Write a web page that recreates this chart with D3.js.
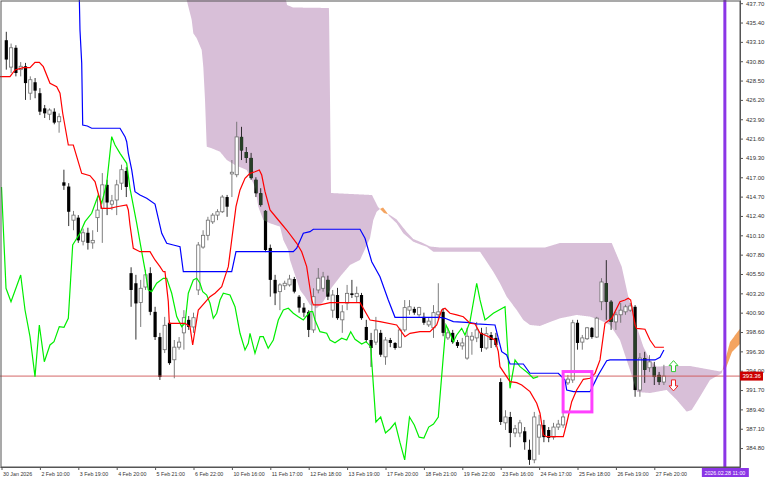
<!DOCTYPE html>
<html><head><meta charset="utf-8">
<script src="https://cdn.jsdelivr.net/npm/d3@7"></script>
<style>body{margin:0;background:#fff;}svg{display:block;}</style>
</head><body>
<svg id="chart" width="768" height="480"></svg>
<script>
// ---------- DATA ----------
const timeLabels = ["30 Jan 2026","2 Feb 10:00","3 Feb 19:00","4 Feb 20:00","5 Feb 21:00","6 Feb 22:00","10 Feb 16:00","11 Feb 17:00","12 Feb 18:00","13 Feb 19:00","17 Feb 20:00","18 Feb 21:00","19 Feb 22:00","23 Feb 16:00","24 Feb 17:00","25 Feb 18:00","26 Feb 19:00","27 Feb 20:00"];
const timeLabelBars = [0,8,16,24,32,40,48,56,64,72,80,88,96,104,112,120,128,136];
const priceTicks = [437.7,435.4,433.1,430.8,428.5,426.2,423.9,421.6,419.3,417.0,414.7,412.4,410.1,407.8,405.5,403.2,400.9,398.6,396.3,394.0,391.7,389.4,387.1,384.8];
const firstBar = 1;
const opens = [433.3,430.1,432.4,429.8,430.2,427.0,428.3,427.0,425.2,424.5,424.8,423.6,416.4,415.9,411.9,412.2,409.4,410.4,409.2,412.2,413.3,416.1,413.8,414.3,416.3,417.75,
405.6,404.4,402.1,403.95,405.6,401.0,398.0,396.5,399.7,395.3,396.8,398.5,400.05,399.2,403.6,408.7,410.1,411.7,412.5,412.9,414.65,417.4,417.3,421.8,420.0,419.3,416.7,415.1,413.0,408.6,404.8,403.4,404.1,404.2,404.9,402.8,401.5,401.0,398.85,403.6,403.8,404.8,
401.2,403.0,400.05,402.05,403.2,402.8,403.0,399.2,397.65,397.4,398.5,395.65,397.65,397.3,396.8,398.85,401.2,401.35,400.65,400.4,399.45,399.1,400.65,401.0,397.9,398.5,397.4,396.95,395.5,397.65,397.9,398.5,396.7,398.25,397.9,
392.65,387.8,388.5,386.6,386.6,386.8,384.6,383.4,386.1,387.55,386.95,386.1,387.3,387.55,392.55,392.9,399.7,397.4,397.8,399.1,398.0,402.2,404.4,402.2,399.8,400.65,401.0,401.2,401.6,391.7,395.5,394.35,394.45,393.5,392.65];
const highs = [434.3,432.9,432.7,430.7,430.6,429.0,428.8,427.6,425.6,425.2,425.2,424.6,417.9,416.3,413.0,412.5,410.9,411.0,410.7,414.7,417.5,416.7,414.9,416.7,418.5,418.2,
406.3,405.4,404.8,406.0,406.3,401.6,398.5,400.4,400.0,397.65,398.0,401.2,400.5,400.9,409.3,410.7,412.3,412.75,413.2,414.9,414.9,419.05,423.6,423.0,420.6,419.9,417.0,415.7,413.1,409.0,405.4,404.4,404.7,405.4,405.15,403.0,402.05,401.2,403.8,406.2,405.75,405.3,
403.6,403.85,401.8,404.2,404.8,404.0,403.25,400.05,398.5,400.4,398.85,398.0,397.9,397.4,399.1,402.4,402.4,401.6,401.6,400.9,400.3,401.8,404.4,401.45,399.1,398.85,397.65,397.9,399.1,398.6,399.8,399.1,399.2,398.6,398.5,
393.1,389.3,389.1,387.55,388.15,387.3,385.8,389.1,388.75,388.15,387.3,387.8,388.15,389.1,393.5,400.05,400.05,398.25,399.2,399.2,400.4,405.0,407.15,402.4,401.0,402.05,401.85,402.05,401.8,396.1,396.25,395.85,395.05,393.85,394.7];
const lows = [429.8,429.4,429.0,429.0,426.2,426.2,426.4,424.4,424.05,423.8,423.3,422.3,415.5,411.2,410.7,409.2,408.9,408.4,408.5,410.5,409.2,412.5,413.1,412.5,415.5,414.65,
401.6,397.7,399.2,403.6,400.6,397.65,392.9,396.1,394.7,393.1,396.5,396.5,398.85,398.5,403.0,408.5,409.5,411.45,411.9,412.75,412.3,414.65,417.0,419.05,418.7,416.7,414.65,413.5,408.1,402.8,401.8,401.2,403.6,404.0,403.2,400.9,400.4,398.0,398.5,403.2,403.4,402.4,
400.3,400.05,398.5,401.2,402.65,402.05,400.05,397.3,394.45,397.05,395.65,394.7,396.8,396.5,396.7,398.6,400.65,400.65,400.4,399.45,399.2,397.9,400.05,398.1,397.65,397.2,396.7,396.5,395.3,395.9,397.4,396.25,396.5,396.7,396.8,
387.55,386.95,384.9,386.1,386.1,384.6,382.8,383.0,384.0,385.5,385.5,385.8,386.95,387.2,392.3,392.55,396.5,396.5,397.65,397.8,397.9,401.2,400.05,398.85,398.85,399.7,400.65,401.0,390.9,390.9,392.55,393.85,392.3,392.3,392.3];
const closes = [431.0,432.4,429.4,430.2,428.2,428.6,427.3,424.8,424.6,425.0,423.5,424.2,416.0,412.9,412.5,409.5,410.4,409.2,409.5,413.1,416.1,414.0,414.2,416.1,417.9,415.85,
403.6,402.0,403.8,405.4,401.0,398.0,393.25,399.4,394.9,396.8,397.4,400.3,399.2,400.3,408.95,410.1,411.9,412.5,412.9,414.65,413.5,417.6,421.8,420.2,419.3,416.9,415.1,413.7,408.35,404.8,403.2,404.2,404.4,404.9,403.4,401.5,400.9,398.85,402.8,405.0,405.15,402.8,
403.0,400.25,401.0,403.2,403.0,403.2,400.25,397.65,396.7,398.85,395.9,397.65,397.3,396.7,398.85,401.5,401.6,400.9,401.5,399.7,399.9,400.9,401.0,398.5,398.5,397.4,396.95,397.3,398.1,398.1,398.85,396.7,398.4,397.65,397.05,
387.9,388.5,386.6,387.1,387.8,385.5,383.4,388.5,387.55,386.1,386.0,387.3,387.65,388.5,393.0,399.7,397.3,397.9,399.1,398.0,400.25,404.55,402.2,399.8,400.65,401.2,401.6,401.7,391.7,395.5,394.1,395.05,393.25,392.65,393.36];

const tenkan = [[-0.31,428.96],[1.77,428.96],[2.81,429.76],[4.54,430.03],[5.94,430.03],[6.98,430.67],[7.88,430.67],[8.71,430.15],[10.1,428.18],[11.5,427.77],[12.19,426.99],[12.75,424.61],[13.92,420.84],[14.96,420.84],[16.71,417.47],[18.44,417.19],[19.48,416.48],[20.52,414.30],[20.88,413.31],[22.6,413.31],[24.0,413.50],[26.08,413.70],[26.42,413.11],[26.77,411.33],[27.46,408.56],[28.85,408.15],[30.94,408.15],[31.98,407.17],[33.02,406.37],[33.71,405.77],[34.06,405.77],[34.75,402.21],[34.96,399.64],[38.23,399.64],[39.27,399.24],[39.83,397.06],[41.0,401.22],[43.44,402.80],[44.48,403.21],[45.88,403.99],[46.56,405.18],[47.25,406.37],[47.96,409.54],[48.85,413.50],[49.69,415.49],[50.73,416.88],[51.77,417.47],[52.81,417.66],[53.71,417.87],[54.21,417.27],[54.9,415.29],[55.94,413.11],[57.67,411.92],[59.42,410.73],[61.5,409.15],[62.54,408.15],[63.58,406.37],[64.63,402.41],[64.96,401.82],[66.35,401.82],[68.44,402.09],[74.69,402.09],[76.77,400.03],[78.85,399.83],[82.33,399.44],[84.06,398.05],[85.1,398.45],[87.19,398.64],[89.27,398.64],[90.67,399.44],[91.71,401.22],[92.4,401.42],[93.44,400.83],[94.83,400.63],[96.21,400.42],[97.6,399.64],[98.65,399.56],[99.69,398.49],[100.73,398.25],[102.81,397.65],[103.5,396.26],[103.85,394.48],[105.94,392.70],[107.33,392.58],[108.38,392.30],[110.1,391.51],[111.5,390.13],[112.19,388.94],[112.88,386.36],[113.58,386.15],[117.04,386.15],[117.75,387.75],[118.79,390.32],[119.83,391.71],[121.21,392.98],[122.6,393.10],[123.65,393.69],[124.69,395.28],[125.73,399.64],[127.13,400.23],[128.85,402.21],[129.9,402.41],[130.58,402.61],[131.08,402.41],[131.98,399.44],[132.33,399.04],[134.06,398.93],[135.1,397.65],[136.15,396.79],[138,396.79]];

const kijun = [[16.21,438.32],[16.35,434.51],[16.71,430.59],[16.92,423.22],[17.88,423.10],[18.79,422.83],[24.69,422.83],[25.73,421.83],[26.08,421.23],[26.42,419.85],[27.13,417.87],[27.81,415.29],[28.85,414.89],[30.25,414.50],[31.98,413.82],[33.38,410.34],[34.42,409.15],[35.79,408.95],[37.19,408.75],[37.88,405.77],[47.96,405.77],[48.85,408.15],[60.79,408.15],[61.5,408.56],[62.88,410.34],[64.27,410.53],[64.96,410.82],[74.69,410.82],[75.73,409.75],[77.13,406.96],[78.85,405.18],[80.58,402.41],[81.98,400.35],[91.35,400.35],[92.4,400.23],[94.13,399.83],[97.6,399.71],[99.0,399.56],[102.81,399.44],[103.5,397.86],[104.21,396.26],[105.25,395.87],[105.94,394.80],[108.71,394.80],[110.1,393.70],[116.0,393.70],[117.4,392.90],[117.75,391.71],[119.15,391.51],[122.6,391.51],[123.65,392.70],[124.33,393.49],[126.08,395.19],[126.77,395.28],[136.15,395.28],[137.19,395.60],[138,396.46]];

const chikou = [[0,415.85],[0.94,403.80],[1.98,402.21],[4.0,405.38],[4.9,401.22],[5.94,398.05],[6.98,393.29],[7.88,399.44],[8.92,395.07],[10.1,397.06],[10.94,397.45],[12.04,399.24],[13.02,399.16],[13.92,400.23],[14.83,408.95],[16.35,410.34],[17.4,411.72],[18.79,412.72],[20.17,414.89],[20.88,413.91],[21.92,416.29],[22.96,421.83],[23.65,420.84],[24.69,419.85],[26.08,418.66],[26.77,415.69],[28.17,411.53],[29.21,408.15],[29.9,405.98],[30.58,403.60],[31.29,403.40],[32.33,404.40],[33.71,404.99],[34.42,404.99],[35.46,403.21],[36.5,400.43],[37.54,399.24],[38.23,399.64],[38.92,403.21],[39.96,404.79],[40.67,404.99],[41.35,404.40],[41.92,403.40],[42.75,403.00],[43.44,402.02],[44.13,400.23],[44.83,400.83],[45.52,402.41],[46.21,403.21],[47.6,403.00],[48.65,401.61],[49.69,398.45],[50.73,396.47],[51.42,397.26],[51.77,398.45],[52.81,396.07],[53.85,398.05],[54.54,398.05],[55.56,396.67],[56.63,397.65],[57.67,400.03],[58.71,401.22],[59.75,401.42],[60.79,400.83],[61.83,400.42],[62.88,400.03],[64.27,401.02],[64.83,401.02],[65.31,400.03],[66.35,398.64],[67.75,398.45],[68.44,397.65],[69.48,397.33],[70.88,397.86],[71.92,397.65],[72.75,398.64],[73.65,397.74],[75.04,397.18],[75.94,397.45],[76.92,396.86],[78,387.9],[79,388.5],[80,386.6],[81,387.1],[82,387.8],[83,385.5],[84,383.4],[85,388.5],[86,387.55],[87,386.1],[88,386.0],[89,387.3],[90,387.65],[91,388.5],[92.04,395.67],[92.6,399.44],[93.44,398.45],[94.13,397.45],[94.83,398.25],[95.87,399.04],[96.56,398.25],[97.6,399.83],[99.0,404.40],[99.69,402.41],[100.73,400.03],[102.46,400.83],[104.9,401.61],[105.94,391.91],[106.98,395.27],[108.02,394.48],[109.75,393.69],[110.79,393.10],[111.81,393.29]];

const senkouA = [[37.81,439.03],[38.58,438.08],[39.63,435.70],[39.96,434.12],[40.67,433.53],[41.71,432.13],[42.04,430.15],[42.4,426.19],[42.75,420.64],[43.79,420.45],[45.52,420.04],[46.92,419.06],[48.65,418.46],[51.08,417.87],[52.81,415.88],[53.5,413.50],[54.54,411.92],[55.94,411.53],[58.02,411.13],[58.71,409.54],[59.75,408.35],[60.1,407.17],[60.79,405.98],[61.5,404.79],[62.19,403.60],[63.23,402.80],[64.27,401.82],[65.67,401.42],[67.04,402.21],[68.44,403.60],[70.52,405.18],[72.6,406.57],[74.69,407.17],[76.77,409.75],[77.46,411.92],[78.16,412.91],[78.85,413.23],[79.48,413.41],[80.21,412.87],[80.73,412.40],[82.33,411.53],[83.71,410.34],[85.79,409.34],[87.54,408.95],[88.58,408.75],[89.96,408.15],[99.69,408.15],[101.08,406.96],[102.46,405.77],[103.85,404.40],[105.25,402.80],[107.33,401.22],[108.71,400.03],[110.1,399.44],[112.19,399.32],[114.27,399.79],[116.35,400.23],[119.83,400.63],[122.6,400.43],[124.69,400.03],[126.77,399.44],[128.85,397.65],[130.94,394.08],[132.4,391.47],[135.1,391.35],[138.58,391.71],[140.67,390.52],[142.75,389.13],[143.79,389.33],[145.52,390.91],[147.6,392.90],[150.04,393.70],[151.77,397.41],[154.27,399.32]];

const senkouB = [[37.81,438.67],[59.06,438.67],[59.48,437.49],[60.73,437.19],[68.23,437.13],[68.65,415.13],[77.19,414.89],[78.44,413.47],[79.69,412.75],[80.73,412.58],[82.33,411.98],[84.42,410.49],[85.79,409.66],[87.54,409.25],[89.27,408.77],[91.35,408.65],[113.23,408.65],[116.35,409.19],[127.13,409.19],[129.21,406.37],[130.58,402.80],[132.33,399.24],[133.71,396.86],[135.1,395.27],[136.5,394.48],[138.58,394.56],[143.44,394.56],[149.69,393.91],[150.94,394.32],[152.19,396.23],[154.27,397.42]];

const boxBars = [117, 123];
const boxPrices = [393.9, 389.1];
const signalArrows = [{bar:140, price:395.2, dir:"up"}, {bar:140, price:391.6, dir:"down"}];
const timeLineBar = 150.7;
const timeLineLabel = "2026.02.28 11:00";

// ---------- DRAW ----------
const W = 740, H = 467;
const svg = d3.select("#chart");
const x = d3.scaleLinear().domain([-0.3125, 153.854]).range([0, W]);
const y = d3.scaleLinear().domain([382.55, 438.08]).range([H, 0]);
const line = d3.line().x(d => x(d[0])).y(d => y(d[1]));

// cloud: sample both senkou polylines on a common fine grid of bar positions
const fA = d3.scaleLinear().domain(senkouA.map(d => d[0])).range(senkouA.map(d => d[1])).clamp(true);
const fB = d3.scaleLinear().domain(senkouB.map(d => d[0])).range(senkouB.map(d => d[1])).clamp(true);
const g0 = Math.max(senkouA[0][0], senkouB[0][0]);
const g1 = Math.min(senkouA[senkouA.length-1][0], senkouB[senkouB.length-1][0]);
const grid = d3.range(g0, g1 + 1e-9, 0.04).map(t => ({t, a: fA(t), b: fB(t)}));
const thistleArea = d3.area().defined(d => d.b >= d.a).x(d => x(d.t)).y0(d => y(d.a)).y1(d => y(d.b));
const orangeArea = d3.area().defined(d => d.a >= d.b).x(d => x(d.t)).y0(d => y(d.b)).y1(d => y(d.a));
const thistleD = thistleArea(grid), orangeD = orangeArea(grid);

const defs = svg.append("defs");
defs.append("clipPath").attr("id","plotClip").append("rect").attr("x",0).attr("y",0).attr("width",W).attr("height",H);
const bc = defs.append("clipPath").attr("id","bandClip");
bc.append("path").attr("d", thistleD);
bc.append("path").attr("d", orangeD);

svg.append("rect").attr("width",768).attr("height",480).attr("fill","#fff");
const plot = svg.append("g").attr("clip-path","url(#plotClip)");

plot.append("path").attr("d", thistleD).attr("fill","#d8bfd8");
plot.append("path").attr("d", orangeD).attr("fill","#f4a460");

// candles
const candles = opens.map((o,k) => ({i:k+firstBar, o, h:highs[k], l:lows[k], c:closes[k]}));
const cg = plot.append("g");
cg.selectAll("line").data(candles).join("line")
  .attr("x1", d => x(d.i)).attr("x2", d => x(d.i))
  .attr("y1", d => y(d.h)).attr("y2", d => y(d.l))
  .attr("stroke", d => d.c >= d.o ? "#6e6e6e" : "#1a1a1a").attr("stroke-width", 0.9);
cg.selectAll("rect").data(candles).join("rect")
  .attr("x", d => x(d.i) - 1.6).attr("width", 3.2)
  .attr("y", d => y(Math.max(d.o, d.c)))
  .attr("height", d => Math.max(0.9, Math.abs(y(d.o) - y(d.c))))
  .attr("fill", d => d.c >= d.o ? "#fff" : "#000")
  .attr("stroke", d => d.c >= d.o ? "#6e6e6e" : "none").attr("stroke-width", 0.8);
// bear bodies seen through the cloud
plot.append("g").attr("clip-path","url(#bandClip)")
  .selectAll("rect").data(candles.filter(d => d.c < d.o)).join("rect")
  .attr("x", d => x(d.i) - 1.6).attr("width", 3.2)
  .attr("y", d => y(d.o)).attr("height", d => Math.max(0.9, y(d.c) - y(d.o)))
  .attr("fill", "#273f27");

// bid line
const last = closes[closes.length-1];
plot.append("line").attr("x1",0).attr("x2",W).attr("y1",y(last)).attr("y2",y(last))
  .attr("stroke","#d05555").attr("stroke-width",0.9);

// ichimoku lines
plot.append("path").attr("d", line(chikou)).attr("fill","none").attr("stroke","#00ee00").attr("stroke-width",1.2);
plot.append("path").attr("d", line(kijun)).attr("fill","none").attr("stroke","#0000ff").attr("stroke-width",1.2);
plot.append("path").attr("d", line(tenkan)).attr("fill","none").attr("stroke","#ff0000").attr("stroke-width",1.2);

// rectangle object
plot.append("rect")
  .attr("x", x(boxBars[0])).attr("y", y(boxPrices[0]))
  .attr("width", x(boxBars[1]) - x(boxBars[0])).attr("height", y(boxPrices[1]) - y(boxPrices[0]))
  .attr("fill","none").attr("stroke","#ff40ff").attr("stroke-width",3);

// arrows
signalArrows.forEach(a => {
  const s = a.dir === "up" ? 1 : -1;
  const pts = [[0,0],[4.5,5*s],[2,5*s],[2,11*s],[-2,11*s],[-2,5*s],[-4.5,5*s]];
  plot.append("path")
    .attr("transform", `translate(${x(a.bar)},${y(a.price)})`)
    .attr("d", "M" + pts.map(p => p.join(",")).join("L") + "Z")
    .attr("fill","#fff").attr("stroke", a.dir === "up" ? "#33cc33" : "#ee2222").attr("stroke-width",1);
});

// vertical time line
plot.append("line").attr("x1", x(timeLineBar)).attr("x2", x(timeLineBar)).attr("y1",0).attr("y2",H)
  .attr("stroke","#8b35e6").attr("stroke-width",3);

// frame
svg.append("rect").attr("x",1).attr("y",1).attr("width",W-1).attr("height",H-1)
  .attr("fill","none").attr("stroke","#555").attr("stroke-width",1);

// axes
const font = "Liberation Sans, Arial, sans-serif";
const ra = svg.append("g").attr("transform",`translate(${W},0)`)
  .call(d3.axisRight(y).tickValues(priceTicks).tickFormat(d3.format(".2f")).tickSize(3).tickSizeOuter(0).tickPadding(3));
ra.select(".domain").attr("stroke","#555");
ra.selectAll(".tick line").attr("stroke","#555");
ra.selectAll("text").attr("font-family",font).attr("font-size",6).attr("fill","#333");

const ba = svg.append("g").attr("transform",`translate(0,${H})`)
  .call(d3.axisBottom(x).tickValues(timeLabelBars).tickFormat((d,i) => timeLabels[i]).tickSize(3).tickSizeOuter(0).tickPadding(2));
ba.select(".domain").attr("stroke","#555");
ba.selectAll(".tick line").attr("stroke","#555");
ba.selectAll("text").attr("font-family",font).attr("font-size",5.3).attr("fill","#333")
  .attr("text-anchor","start").attr("x",1);

// current price label
const pl = svg.append("g").attr("transform",`translate(${W},${y(last)})`);
pl.append("rect").attr("x",0).attr("y",-4.5).attr("width",23).attr("height",9).attr("fill","#cc0000");
pl.append("text").attr("x",2.5).attr("y",2.2).attr("font-family",font).attr("font-size",6).attr("fill","#fff").text(last.toFixed(2));

// time line label
const tl = svg.append("g").attr("transform",`translate(${x(timeLineBar)},${H+1})`);
tl.append("rect").attr("x",-23).attr("y",0).attr("width",47).attr("height",9).attr("fill","#8b35e6");
tl.append("text").attr("x",0).attr("y",6.5).attr("text-anchor","middle").attr("font-family",font).attr("font-size",5.3).attr("fill","#fff").text(timeLineLabel);
</script>
</body></html>
